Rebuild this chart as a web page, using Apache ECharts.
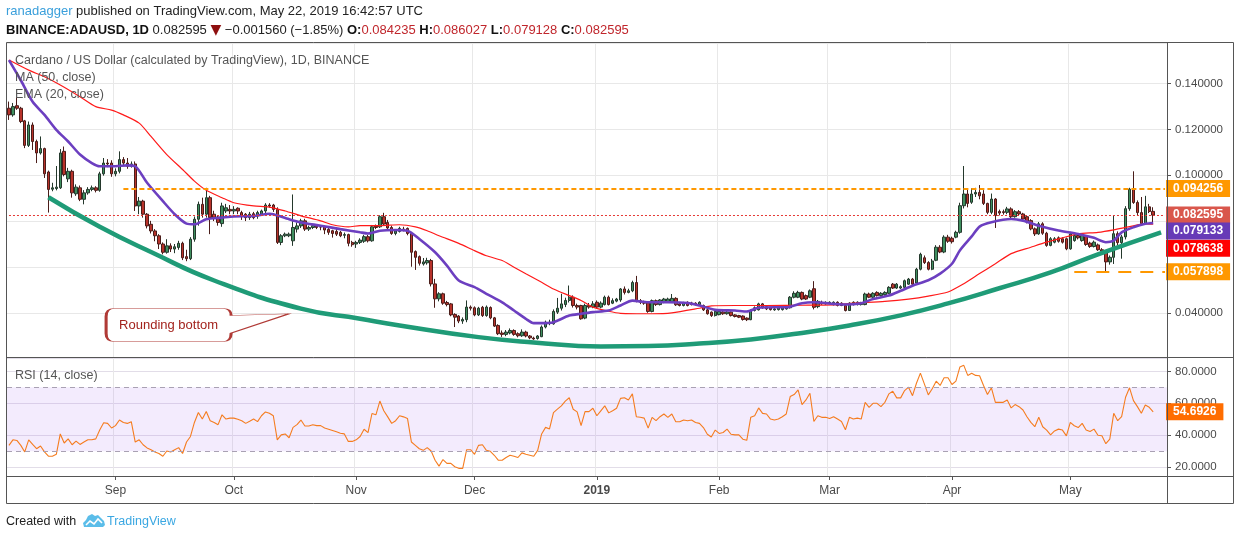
<!DOCTYPE html>
<html><head><meta charset="utf-8">
<script src="https://cdn.jsdelivr.net/npm/echarts@6/dist/echarts.min.js"></script>
<style>html,body{margin:0;padding:0;background:#fff;}#c{width:1234px;height:540px;}</style>
</head><body><div id="c"></div>
<script>
// ---------- data ----------
const startDate = '2018-08-05';
const extraDays = 3; // empty right margin of the chart
const open = [0.1292,0.1263,0.1303,0.1292,0.1237,0.1130,0.1219,0.1147,0.1097,0.1116,
0.1014,0.0939,0.0942,0.0945,0.1104,0.0984,0.1017,0.0919,0.0945,0.0895,
0.0923,0.0938,0.0945,0.0934,0.1006,0.1053,0.1053,0.1006,0.1017,0.1068,
0.1053,0.1039,0.1049,0.0866,0.0887,0.0830,0.0786,0.0757,0.0736,0.0700,
0.0664,0.0692,0.0678,0.0685,0.0703,0.0645,0.0636,0.0721,0.0808,0.0873,
0.0830,0.0902,0.0830,0.0818,0.0789,0.0844,0.0851,0.0844,0.0856,0.0837,
0.0830,0.0815,0.0832,0.0822,0.0830,0.0844,0.0870,0.0870,0.0851,0.0707,
0.0736,0.0736,0.0714,0.0765,0.0779,0.0801,0.0765,0.0772,0.0778,0.0775,
0.0775,0.0764,0.0758,0.0755,0.0751,0.0738,0.0741,0.0707,0.0700,0.0707,
0.0712,0.0732,0.0714,0.0778,0.0775,0.0819,0.0794,0.0772,0.0746,0.0755,
0.0765,0.0768,0.0746,0.0667,0.0645,0.0613,0.0618,0.0628,0.0526,0.0461,
0.0483,0.0445,0.0439,0.0393,0.0386,0.0364,0.0370,0.0425,0.0422,0.0391,
0.0424,0.0388,0.0423,0.0378,0.0345,0.0312,0.0306,0.0312,0.0323,0.0309,
0.0300,0.0316,0.0299,0.0290,0.0288,0.0296,0.0338,0.0357,0.0352,0.0403,
0.0420,0.0436,0.0454,0.0468,0.0432,0.0432,0.0377,0.0432,0.0425,0.0446,
0.0425,0.0436,0.0468,0.0442,0.0451,0.0456,0.0504,0.0489,0.0496,0.0532,
0.0453,0.0446,0.0444,0.0406,0.0453,0.0436,0.0446,0.0450,0.0448,0.0463,
0.0439,0.0432,0.0446,0.0443,0.0442,0.0436,0.0432,0.0413,0.0403,0.0388,
0.0392,0.0403,0.0396,0.0403,0.0391,0.0388,0.0386,0.0377,0.0370,0.0410,
0.0413,0.0439,0.0427,0.0422,0.0413,0.0414,0.0414,0.0417,0.0422,0.0468,
0.0468,0.0489,0.0475,0.0468,0.0505,0.0427,0.0446,0.0439,0.0442,0.0436,
0.0446,0.0442,0.0432,0.0410,0.0436,0.0436,0.0436,0.0436,0.0482,0.0468,
0.0489,0.0475,0.0479,0.0485,0.0525,0.0508,0.0508,0.0511,0.0525,0.0547,
0.0530,0.0590,0.0640,0.0619,0.0590,0.0629,0.0686,0.0665,0.0730,0.0725,
0.0730,0.0751,0.0867,0.0918,0.0882,0.0918,0.0925,0.0918,0.0877,0.0838,
0.0896,0.0842,0.0841,0.0838,0.0853,0.0819,0.0841,0.0831,0.0819,0.0802,
0.0766,0.0744,0.0788,0.0747,0.0694,0.0708,0.0727,0.0723,0.0723,0.0679,
0.0715,0.0737,0.0715,0.0733,0.0704,0.0689,0.0696,0.0675,0.0669,0.0622,
0.0642,0.0745,0.0706,0.0731,0.0854,0.0939,0.0881,0.0837,0.0789,0.0862,0.084235];
const close = [0.1263,0.1299,0.1292,0.1234,0.1130,0.1219,0.1147,0.1097,0.1116,0.1006,
0.0938,0.0945,0.0948,0.1097,0.1003,0.1017,0.0923,0.0948,0.0895,0.0923,
0.0938,0.0945,0.0934,0.1006,0.1053,0.1049,0.1006,0.1017,0.1068,0.1053,
0.1039,0.1049,0.0866,0.0887,0.0830,0.0779,0.0757,0.0736,0.0700,0.0664,
0.0692,0.0678,0.0688,0.0703,0.0640,0.0636,0.0721,0.0808,0.0873,0.0830,
0.0902,0.0815,0.0815,0.0794,0.0866,0.0858,0.0844,0.0851,0.0844,0.0822,
0.0815,0.0830,0.0815,0.0837,0.0844,0.0870,0.0866,0.0851,0.0707,0.0736,
0.0743,0.0743,0.0772,0.0779,0.0801,0.0765,0.0772,0.0780,0.0772,0.0774,
0.0761,0.0751,0.0746,0.0743,0.0736,0.0741,0.0703,0.0697,0.0707,0.0717,
0.0732,0.0714,0.0775,0.0772,0.0819,0.0787,0.0770,0.0746,0.0757,0.0768,
0.0761,0.0746,0.0664,0.0642,0.0616,0.0622,0.0628,0.0526,0.0461,0.0483,
0.0442,0.0436,0.0391,0.0381,0.0364,0.0371,0.0425,0.0420,0.0391,0.0420,
0.0388,0.0425,0.0378,0.0342,0.0309,0.0306,0.0316,0.0323,0.0306,0.0300,
0.0316,0.0299,0.0291,0.0286,0.0299,0.0338,0.0359,0.0359,0.0406,0.0420,
0.0439,0.0454,0.0468,0.0432,0.0425,0.0374,0.0432,0.0425,0.0439,0.0425,
0.0442,0.0468,0.0436,0.0453,0.0460,0.0504,0.0489,0.0496,0.0532,0.0453,
0.0446,0.0442,0.0406,0.0453,0.0436,0.0456,0.0460,0.0460,0.0463,0.0435,
0.0432,0.0443,0.0432,0.0436,0.0436,0.0446,0.0413,0.0396,0.0388,0.0406,
0.0406,0.0396,0.0403,0.0388,0.0384,0.0381,0.0371,0.0370,0.0410,0.0422,
0.0439,0.0422,0.0417,0.0414,0.0417,0.0422,0.0422,0.0424,0.0468,0.0485,
0.0489,0.0460,0.0460,0.0496,0.0424,0.0450,0.0439,0.0446,0.0446,0.0446,
0.0432,0.0432,0.0410,0.0442,0.0446,0.0446,0.0443,0.0482,0.0468,0.0485,
0.0475,0.0485,0.0489,0.0511,0.0508,0.0525,0.0514,0.0540,0.0547,0.0525,
0.0590,0.0655,0.0619,0.0590,0.0626,0.0686,0.0665,0.0730,0.0712,0.0710,
0.0751,0.0867,0.0918,0.0877,0.0918,0.0925,0.0910,0.0877,0.0838,0.0896,
0.0824,0.0835,0.0837,0.0853,0.0819,0.0841,0.0831,0.0809,0.0798,0.0766,
0.0744,0.0788,0.0747,0.0694,0.0723,0.0723,0.0712,0.0708,0.0679,0.0744,
0.0737,0.0727,0.0737,0.0698,0.0689,0.0708,0.0675,0.0669,0.0622,0.0642,
0.0745,0.0706,0.0731,0.0854,0.0939,0.0881,0.0837,0.0789,0.0862,0.084155,0.082595];
const low = [0.1241,0.1255,0.1285,0.1227,0.1118,0.1123,0.1110,0.1053,0.1090,0.0988,
0.0837,0.0930,0.0934,0.0940,0.0995,0.0970,0.0902,0.0910,0.0887,0.0873,
0.0915,0.0930,0.0925,0.0928,0.0998,0.1035,0.0993,0.0995,0.1008,0.1040,
0.1028,0.1033,0.0844,0.0830,0.0815,0.0768,0.0746,0.0712,0.0678,0.0655,
0.0658,0.0665,0.0660,0.0675,0.0630,0.0625,0.0630,0.0710,0.0780,0.0815,
0.0815,0.0743,0.0800,0.0780,0.0775,0.0835,0.0830,0.0830,0.0830,0.0805,
0.0800,0.0805,0.0808,0.0810,0.0825,0.0835,0.0858,0.0840,0.0700,0.0695,
0.0730,0.0730,0.0692,0.0750,0.0770,0.0757,0.0757,0.0765,0.0765,0.0760,
0.0743,0.0740,0.0728,0.0735,0.0730,0.0725,0.0690,0.0688,0.0683,0.0700,
0.0705,0.0707,0.0710,0.0765,0.0770,0.0780,0.0757,0.0740,0.0738,0.0750,
0.0755,0.0738,0.0601,0.0587,0.0606,0.0606,0.0610,0.0515,0.0422,0.0450,
0.0435,0.0428,0.0385,0.0338,0.0355,0.0352,0.0359,0.0410,0.0385,0.0386,
0.0382,0.0383,0.0372,0.0338,0.0303,0.0295,0.0298,0.0306,0.0300,0.0293,
0.0295,0.0293,0.0285,0.0282,0.0283,0.0294,0.0332,0.0346,0.0348,0.0395,
0.0410,0.0425,0.0445,0.0423,0.0415,0.0370,0.0372,0.0418,0.0420,0.0418,
0.0420,0.0432,0.0432,0.0438,0.0446,0.0448,0.0480,0.0485,0.0490,0.0446,
0.0438,0.0435,0.0400,0.0402,0.0430,0.0432,0.0442,0.0446,0.0445,0.0430,
0.0428,0.0428,0.0428,0.0432,0.0432,0.0432,0.0408,0.0392,0.0382,0.0384,
0.0389,0.0391,0.0392,0.0384,0.0380,0.0377,0.0366,0.0364,0.0368,0.0406,
0.0410,0.0418,0.0412,0.0410,0.0409,0.0410,0.0410,0.0414,0.0419,0.0463,
0.0464,0.0455,0.0456,0.0464,0.0415,0.0420,0.0435,0.0435,0.0438,0.0432,
0.0428,0.0429,0.0406,0.0408,0.0432,0.0432,0.0432,0.0433,0.0464,0.0464,
0.0471,0.0471,0.0475,0.0482,0.0504,0.0504,0.0504,0.0508,0.0522,0.0520,
0.0526,0.0585,0.0613,0.0585,0.0586,0.0625,0.0660,0.0660,0.0705,0.0702,
0.0725,0.0745,0.0855,0.0860,0.0875,0.0905,0.0895,0.0870,0.0830,0.0830,
0.0770,0.0825,0.0828,0.0830,0.0810,0.0815,0.0822,0.0802,0.0790,0.0760,
0.0735,0.0740,0.0740,0.0688,0.0690,0.0703,0.0706,0.0702,0.0673,0.0675,
0.0710,0.0720,0.0710,0.0692,0.0683,0.0685,0.0670,0.0660,0.0579,0.0610,
0.0613,0.0695,0.0636,0.0720,0.0845,0.0875,0.0825,0.0780,0.0785,0.0835,0.079128];
const high = [0.1321,0.1315,0.1342,0.1298,0.1241,0.1234,0.1230,0.1155,0.1169,0.1120,
0.1020,0.0967,0.1040,0.1114,0.1125,0.1032,0.1024,0.0960,0.0955,0.0935,
0.0948,0.0955,0.0952,0.1015,0.1075,0.1070,0.1065,0.1030,0.1104,0.1079,
0.1075,0.1060,0.1060,0.0905,0.0893,0.0835,0.0801,0.0765,0.0743,0.0707,
0.0721,0.0703,0.0700,0.0714,0.0710,0.0675,0.0730,0.0820,0.0885,0.0902,
0.0945,0.0910,0.0845,0.0825,0.0880,0.0875,0.0870,0.0865,0.0860,0.0845,
0.0835,0.0840,0.0840,0.0845,0.0850,0.0878,0.0878,0.0875,0.0860,0.0743,
0.0750,0.0750,0.0916,0.0794,0.0810,0.0810,0.0780,0.0787,0.0785,0.0783,
0.0780,0.0770,0.0762,0.0765,0.0757,0.0750,0.0745,0.0714,0.0714,0.0725,
0.0740,0.0740,0.0783,0.0785,0.0825,0.0836,0.0805,0.0780,0.0765,0.0775,
0.0775,0.0772,0.0751,0.0672,0.0650,0.0639,0.0640,0.0635,0.0548,0.0490,
0.0488,0.0452,0.0443,0.0398,0.0390,0.0380,0.0454,0.0432,0.0428,0.0426,
0.0430,0.0432,0.0428,0.0382,0.0350,0.0323,0.0325,0.0332,0.0328,0.0315,
0.0328,0.0322,0.0303,0.0296,0.0303,0.0345,0.0366,0.0370,0.0415,0.0465,
0.0483,0.0466,0.0519,0.0476,0.0440,0.0435,0.0440,0.0443,0.0451,0.0454,
0.0450,0.0475,0.0475,0.0463,0.0465,0.0508,0.0515,0.0505,0.0540,0.0561,
0.0460,0.0453,0.0448,0.0458,0.0458,0.0460,0.0465,0.0466,0.0482,0.0468,
0.0443,0.0448,0.0450,0.0448,0.0446,0.0450,0.0436,0.0416,0.0406,0.0412,
0.0410,0.0408,0.0408,0.0406,0.0394,0.0391,0.0389,0.0380,0.0415,0.0428,
0.0444,0.0443,0.0430,0.0426,0.0421,0.0426,0.0426,0.0428,0.0473,0.0494,
0.0496,0.0493,0.0480,0.0502,0.0538,0.0456,0.0453,0.0450,0.0450,0.0450,
0.0450,0.0446,0.0436,0.0446,0.0450,0.0450,0.0448,0.0488,0.0488,0.0490,
0.0494,0.0490,0.0494,0.0516,0.0530,0.0530,0.0520,0.0545,0.0552,0.0552,
0.0596,0.0662,0.0650,0.0625,0.0635,0.0695,0.0695,0.0738,0.0740,0.0732,
0.0758,0.0880,0.1040,0.0943,0.0943,0.0945,0.0957,0.0935,0.0880,0.0920,
0.0900,0.0850,0.0850,0.0862,0.0860,0.0848,0.0848,0.0836,0.0824,0.0808,
0.0772,0.0796,0.0795,0.0753,0.0730,0.0730,0.0733,0.0730,0.0728,0.0753,
0.0743,0.0745,0.0743,0.0738,0.0710,0.0715,0.0702,0.0682,0.0674,0.0650,
0.0825,0.0755,0.0740,0.0865,0.0945,0.1017,0.0890,0.0905,0.0910,0.0875,0.086027];
const rsi = [33.6,37.1,36.7,33.6,29.5,37.1,34.2,31.5,33.2,29.5,
26.8,26.8,28.0,40.8,35.1,37.7,34.0,36.3,34.2,35.7,
37.1,37.1,37.7,43.3,47.8,47.4,44.5,46.0,49.5,48.0,
47.4,48.5,35.7,37.1,34.0,32.0,30.9,29.5,28.5,26.8,
30.1,29.5,30.9,32.2,28.5,35.7,39.2,48.0,54.2,50.1,
54.8,49.1,48.0,46.6,52.8,50.1,50.7,50.7,50.0,49.1,
47.4,48.7,50.1,48.5,52.2,54.6,53.8,52.2,37.1,40.2,
40.8,38.4,44.9,46.6,49.5,45.8,45.8,46.6,46.0,46.0,
44.5,43.7,42.9,42.1,41.2,40.8,36.1,36.1,37.1,39.2,
43.7,41.6,53.6,52.8,61.4,55.3,51.5,47.4,49.1,52.2,
51.5,50.5,35.7,33.6,31.5,30.5,32.2,30.1,24.3,20.6,
24.7,22.3,22.3,20.2,19.2,19.2,30.9,30.9,28.0,33.6,
34.0,30.5,29.9,27.4,24.3,24.3,26.0,27.4,26.8,26.0,
28.9,28.0,27.4,26.8,30.5,40.8,44.9,43.9,54.2,56.3,
58.4,61.4,63.5,56.3,54.6,46.0,54.8,54.8,56.9,52.2,
55.3,58.4,54.0,55.3,56.9,63.1,63.5,62.1,65.9,51.6,
51.2,50.7,44.4,51.2,49.1,51.6,53.3,51.2,53.3,48.4,
48.4,49.5,49.1,49.5,48.0,47.4,44.8,40.6,38.9,43.2,
41.1,41.7,43.8,40.6,40.2,40.2,37.5,36.8,51.2,52.2,
57.1,53.7,53.3,50.1,49.5,50.1,51.6,53.3,64.2,65.5,
68.4,59.2,62.1,66.3,48.6,52.2,51.2,51.2,50.5,51.6,
50.1,48.6,43.4,51.2,50.1,50.7,50.1,60.6,57.5,60.0,
60.0,57.9,60.6,65.9,67.6,63.4,63.4,68.0,70.1,64.8,
72.6,78.9,72.2,65.3,69.1,73.9,71.2,76.0,76.0,71.8,
73.9,82.7,83.8,77.5,78.9,77.5,77.3,71.2,65.5,69.7,
60.6,60.6,60.6,62.1,57.1,59.2,57.9,55.8,51.6,48.0,
45.3,51.2,45.3,43.2,40.2,42.7,43.8,43.2,39.6,48.0,
45.9,44.8,47.4,43.2,42.3,43.8,40.0,39.6,34.7,37.5,
53.7,49.1,51.6,63.8,69.7,61.7,57.9,53.7,58.9,57.5,54.6926];
// [day index, value] samples
const ema20Points = [[0,0.1502],[3,0.1414],[6,0.1320],[9,0.1263],[12,0.1198],[15,0.1147],[18,0.1090],[21,0.1053],[23,0.1039],[27,0.1039],[30,0.1043],[32,0.1039],[35,0.0967],[39,0.0887],[42,0.0830],[45,0.0789],[47,0.0786],[50,0.0808],[54,0.0815],[57,0.0820],[62,0.0822],[66,0.0832],[67,0.0830],[71,0.0808],[74,0.0794],[79,0.0780],[84,0.0765],[89,0.0751],[91,0.0746],[94,0.0758],[98,0.0761],[101,0.0758],[104,0.0722],[108,0.0664],[111,0.0606],[114,0.0541],[118,0.0512],[121,0.0483],[125,0.0446],[128,0.0410],[131,0.0374],[133,0.0355],[135,0.0355],[138,0.0359],[142,0.0388],[145,0.0396],[148,0.0403],[152,0.0410],[155,0.0432],[158,0.0453],[162,0.0446],[167,0.0446],[172,0.0443],[175,0.0432],[179,0.0413],[184,0.0410],[187,0.0406],[190,0.0422],[194,0.0424],[197,0.0424],[201,0.0442],[204,0.0446],[209,0.0439],[212,0.0436],[216,0.0442],[219,0.0460],[223,0.0475],[226,0.0496],[229,0.0518],[233,0.0542],[236,0.0571],[239,0.0614],[241,0.0672],[244,0.0733],[246,0.0776],[249,0.0795],[254,0.0809],[257,0.0802],[261,0.0780],[266,0.0759],[271,0.0744],[275,0.0727],[278,0.0708],[280,0.0715],[282,0.0751],[285,0.0773],[288,0.0788],[290,0.079133]];
const ma50Points = [[0,0.1502],[5,0.1458],[9,0.1429],[13,0.1393],[18,0.1342],[22,0.1299],[26,0.1284],[29,0.1263],[33,0.1227],[36,0.1169],[40,0.1090],[44,0.1025],[47,0.0974],[50,0.0934],[54,0.0902],[57,0.0880],[62,0.0866],[66,0.0861],[70,0.0844],[74,0.0823],[79,0.0801],[82,0.0784],[86,0.0775],[89,0.0780],[94,0.0780],[99,0.0784],[103,0.0775],[106,0.0758],[109,0.0736],[114,0.0703],[118,0.0671],[121,0.0649],[125,0.0628],[128,0.0599],[131,0.0570],[135,0.0533],[138,0.0504],[142,0.0475],[145,0.0454],[148,0.0425],[152,0.0407],[155,0.0398],[163,0.0396],[168,0.0400],[175,0.0420],[178,0.0430],[184,0.0432],[192,0.0432],[201,0.0433],[209,0.0435],[214,0.0442],[222,0.0450],[228,0.0460],[233,0.0473],[238,0.0491],[242,0.0527],[246,0.0571],[250,0.0614],[254,0.0658],[259,0.0686],[263,0.0708],[267,0.0727],[271,0.0744],[276,0.0751],[280,0.0762],[284,0.0776],[288,0.0788],[290,0.078638]];
const roundingBottom = [[10,0.0904],[23,0.0775],[36,0.0665],[52,0.0541],[74,0.0418],[89,0.0374],[99,0.0345],[119,0.0294],[133,0.0271],[150,0.0253],[162,0.0255],[175,0.0266],[188,0.0284],[200,0.0310],[213,0.0345],[226,0.0389],[238,0.0441],[251,0.0507],[264,0.0576],[276,0.0655],[292,0.0751]];
const calloutPoint = [71, 0.0396];
const resistance = {value: 0.094256, from: 29};
const support = {value: 0.057898, from: 270};
const ema20Last = 0.079133, ma50Last = 0.078638, rsiLast = 54.6926;
const rsiBand = [30, 70];
const monthNames = ['Jan','Feb','Mar','Apr','May','Jun','Jul','Aug','Sep','Oct','Nov','Dec'];

// ---------- build ----------
const FONT = 'Liberation Sans';
const dates = [];
const d0 = new Date(startDate + 'T00:00:00Z');
for (let k = 0; k < open.length + extraDays; k++) {
  const d = new Date(d0.getTime() + k * 86400000);
  dates.push(d.toISOString().slice(0, 10));
}
const lastDate = dates[dates.length - 1];
const n = open.length;
const candles = open.map((o, k) => [o, close[k], low[k], high[k]]);
const lastClose = close[n - 1], prevClose = close[n - 2];
const chg = lastClose - prevClose;
const isMonthStart = (idx, val) => (val || dates[idx]).slice(8) === '01';
const fmt6 = v => v.toFixed(6);
const pts = arr => arr.map(p => [dates[p[0]], p[1]]);

const tag = (bg, dy) => ({
  show: true, position: 'right', distance: 1, offset: [0, dy || 0],
  backgroundColor: bg, color: '#fff', fontFamily: FONT, fontSize: 12, fontWeight: 'bold',
  padding: [2, 7, 1, 7], lineHeight: 14
});

const chart = echarts.init(document.getElementById('c'), null, {renderer: 'canvas'});
chart.setOption({
  animation: false,
  backgroundColor: '#fff',
  textStyle: {fontFamily: FONT},
  title: [
    {left: 6, top: 5, padding: 0, text: '{u|ranadagger}{t| published on TradingView.com, May 22, 2019 16:42:57 UTC}',
      textStyle: {fontWeight: 'normal', rich: {u: {color: '#3a9fdb', fontSize: 13, fontWeight: 'normal', fontFamily: FONT}, t: {color: '#222', fontSize: 13, fontWeight: 'normal', fontFamily: FONT}}}},
    {left: 6, top: 23, padding: 0,
      text: '{b|BINANCE:ADAUSD, 1D}{t| ' + fmt6(lastClose) + ' }{r|▼}{t| −' + Math.abs(chg).toFixed(6) + ' (−' + Math.abs(chg / prevClose * 100).toFixed(2) + '%) }{b|O:}{v|' + fmt6(open[n-1]) + '}{b| H:}{v|' + fmt6(high[n-1]) + '}{b| L:}{v|' + fmt6(low[n-1]) + '}{b| C:}{v|' + fmt6(lastClose) + '}',
      textStyle: {fontWeight: 'normal', rich: {
        b: {color: '#111', fontSize: 13, fontWeight: 'bold', fontFamily: FONT},
        t: {color: '#222', fontSize: 13, fontWeight: 'normal', fontFamily: FONT},
        r: {color: '#8e0f0f', fontSize: 14, fontWeight: 'normal', fontFamily: 'DejaVu Sans'},
        v: {color: '#c0262c', fontSize: 13, fontWeight: 'normal', fontFamily: FONT}}}},
    {left: 15, top: 54, padding: 0, text: 'Cardano / US Dollar (calculated by TradingView), 1D, BINANCE',
      textStyle: {color: '#555', fontSize: 12.5, fontWeight: 'normal', fontFamily: FONT}},
    {left: 15, top: 71, padding: 0, text: 'MA (50, close)', textStyle: {color: '#555', fontSize: 12.5, fontWeight: 'normal', fontFamily: FONT}},
    {left: 15, top: 88, padding: 0, text: 'EMA (20, close)', textStyle: {color: '#555', fontSize: 12.5, fontWeight: 'normal', fontFamily: FONT}},
    {left: 15, top: 369, padding: 0, text: 'RSI (14, close)', textStyle: {color: '#555', fontSize: 12.5, fontWeight: 'normal', fontFamily: FONT}},
    {left: 6, top: 515, padding: 0, text: 'Created with', textStyle: {color: '#222', fontSize: 12.5, fontWeight: 'normal', fontFamily: FONT}},
    {left: 107, top: 515, padding: 0, text: 'TradingView', textStyle: {color: '#3aa7e2', fontSize: 12.5, fontWeight: 'normal', fontFamily: FONT}}
  ],
  graphic: [
    {type: 'rect', shape: {x: 6.5, y: 42.5, width: 1227, height: 461}, style: {fill: 'none', stroke: '#555', lineWidth: 1}, z: 100, silent: true},
    {type: 'line', shape: {x1: 1167.5, y1: 42.5, x2: 1167.5, y2: 503.5}, style: {stroke: '#555', lineWidth: 1}, z: 100, silent: true},
    {type: 'line', shape: {x1: 6.5, y1: 357.5, x2: 1233.5, y2: 357.5}, style: {stroke: '#555', lineWidth: 1}, z: 100, silent: true},
    {type: 'line', shape: {x1: 6.5, y1: 476.5, x2: 1233.5, y2: 476.5}, style: {stroke: '#555', lineWidth: 1}, z: 100, silent: true},
    {type: 'polygon', shape: {points: [[84,527],[83,523],[86,520],[88,516],[92,514],[95,516],[98,515],[101,518],[104,521],[105,525],[103,527]]}, style: {fill: '#5bbde9'}, silent: true},
    {type: 'polyline', shape: {points: [[86,525],[90,521],[94,524],[98,519],[102,523]]}, style: {stroke: '#fff', lineWidth: 1.6, fill: null}, silent: true}
  ],
  grid: [
    {left: 7, right: 67, top: 43, height: 314.5},
    {left: 7, right: 67, top: 358.5, height: 117.5}
  ],
  xAxis: [
    {type: 'category', gridIndex: 0, data: dates, boundaryGap: true,
      axisLine: {show: false}, axisTick: {show: false}, axisLabel: {show: false},
      splitLine: {show: true, interval: isMonthStart, lineStyle: {color: '#e8e8e8'}}},
    {type: 'category', gridIndex: 1, data: dates, boundaryGap: true,
      axisLine: {show: false},
      axisTick: {show: true, interval: isMonthStart, alignWithLabel: true, length: 4, lineStyle: {color: '#555'}},
      axisLabel: {show: true, interval: isMonthStart, margin: 9, color: '#4a4a4a', fontSize: 12, fontFamily: FONT,
        formatter: v => { const m = +v.slice(5, 7) - 1; return m === 0 ? '{y|' + v.slice(0, 4) + '}' : monthNames[m]; },
        rich: {y: {fontWeight: 'bold', color: '#4a4a4a', fontSize: 12, fontFamily: FONT}}},
      splitLine: {show: true, interval: isMonthStart, lineStyle: {color: '#e8e8e8'}}}
  ],
  yAxis: [
    {type: 'value', gridIndex: 0, position: 'right', min: 0.02052, max: 0.15764, splitNumber: 7,
      axisLine: {show: false}, axisTick: {show: true, length: 4, lineStyle: {color: '#555'}},
      axisLabel: {margin: 8, color: '#4a4a4a', fontSize: 11.5, fontFamily: FONT, showMinLabel: false, showMaxLabel: false,
        formatter: v => (Math.abs(v - 0.06) < 1e-9 || Math.abs(v - 0.08) < 1e-9) ? '' : v.toFixed(6)},
      splitLine: {lineStyle: {color: '#e8e8e8'}}},
    {type: 'value', gridIndex: 1, position: 'right', min: 14.4, max: 88.1, splitNumber: 4,
      axisLine: {show: false}, axisTick: {show: true, length: 4, lineStyle: {color: '#555'}},
      axisLabel: {margin: 8, color: '#4a4a4a', fontSize: 11.5, fontFamily: FONT, showMinLabel: false, showMaxLabel: false,
        formatter: v => v.toFixed(4)},
      splitLine: {lineStyle: {color: '#e2dde8'}}}
  ],
  series: [
    {type: 'candlestick', name: 'ADAUSD', xAxisIndex: 0, yAxisIndex: 0, data: candles, barWidth: '75%', z: 2,
      itemStyle: {color: '#3f8f5f', color0: '#b8322a', borderColor: '#24382c', borderColor0: '#4a1d1a', borderWidth: 1},
      markLine: {silent: true, symbol: ['none', 'none'], animation: false,
        data: [
          [{coord: [dates[resistance.from], resistance.value], lineStyle: {color: '#ff9800', width: 2, type: [5, 3]},
            label: Object.assign(tag('#ff9800'), {position: 'end', formatter: fmt6(resistance.value)})},
           {coord: [lastDate, resistance.value]}],
          [{coord: [dates[support.from], support.value], lineStyle: {color: '#ff9800', width: 2, type: [13, 9]},
            label: Object.assign(tag('#ff9800'), {position: 'end', formatter: fmt6(support.value)})},
           {coord: [lastDate, support.value]}],
          [{coord: [dates[0], lastClose], lineStyle: {color: '#e53935', width: 1, type: [2, 2]},
            label: Object.assign(tag('#d9574c'), {position: 'end', formatter: fmt6(lastClose)})},
           {coord: [lastDate, lastClose]}]
        ]}},
    {type: 'line', name: 'MA 50', xAxisIndex: 0, yAxisIndex: 0, data: pts(ma50Points), smooth: 0.25, showSymbol: false, symbol: 'none', z: 3,
      lineStyle: {color: '#ff1a1a', width: 1.2},
      markPoint: {silent: true, symbol: 'rect', symbolSize: 0, animation: false,
        data: [{coord: [lastDate, ma50Last], label: Object.assign(tag('#ff0000', 24), {formatter: fmt6(ma50Last)})}]}},
    {type: 'line', name: 'EMA 20', xAxisIndex: 0, yAxisIndex: 0, data: pts(ema20Points), smooth: 0.25, showSymbol: false, symbol: 'none', z: 4,
      lineStyle: {color: '#6c3fc0', width: 2.6},
      markPoint: {silent: true, symbol: 'rect', symbolSize: 0, animation: false,
        data: [{coord: [lastDate, ema20Last], label: Object.assign(tag('#673ab7', 8), {formatter: fmt6(ema20Last)})}]}},
    {type: 'line', name: 'Rounding bottom', xAxisIndex: 0, yAxisIndex: 0, data: pts(roundingBottom), smooth: 0.5, showSymbol: false, symbol: 'none', z: 5,
      lineStyle: {color: '#1f9b77', width: 4.5},
      markPoint: {silent: true, animation: false,
        data: [{coord: [dates[calloutPoint[0]], calloutPoint[1]],
          symbol: 'path://M8,0 L117,0 Q125,0 125,7 L183,5.3 L125,24.7 L125,25 Q125,33 117,33 L8,33 Q0,33 0,25 L0,8 Q0,0 8,0 Z',
          symbolSize: [183, 33], symbolOffset: [-91.5, 11.2], symbolKeepAspect: false,
          itemStyle: {color: '#fff', borderColor: '#b03a36', borderWidth: 1.3},
          label: {show: true, position: 'inside', offset: [-29, 0], formatter: 'Rounding bottom', color: '#a3231d', fontSize: 13, fontFamily: FONT}}]}},
    {type: 'line', name: 'RSI', xAxisIndex: 1, yAxisIndex: 1, data: rsi, showSymbol: false, symbol: 'none', z: 3,
      lineStyle: {color: '#f57c1f', width: 1.1},
      markArea: {silent: true, itemStyle: {color: 'rgba(176,120,240,0.15)'}, data: [[{yAxis: rsiBand[1]}, {yAxis: rsiBand[0]}]]},
      markLine: {silent: true, symbol: ['none', 'none'], label: {show: false}, lineStyle: {color: '#a9a1b3', type: [5, 4], width: 1},
        data: [{yAxis: rsiBand[1]}, {yAxis: rsiBand[0]}]},
      markPoint: {silent: true, symbol: 'rect', symbolSize: 0, animation: false,
        data: [{coord: [lastDate, rsiLast], label: Object.assign(tag('#ff6d00', 0), {formatter: rsiLast.toFixed(4)})}]}}
  ]
});
</script>
</body></html>
